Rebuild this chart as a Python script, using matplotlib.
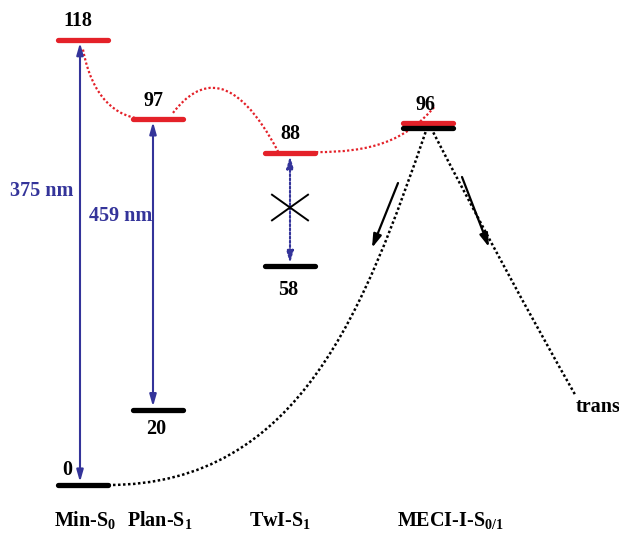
import matplotlib.pyplot as plt
from matplotlib.path import Path
from matplotlib.patches import PathPatch
from matplotlib.transforms import offset_copy

# energies in kcal/mol
states = ['Min-S$_0$', 'Plan-S$_1$', 'TwI-S$_1$', 'MECI-I-S$_{0/1}$']
s1_energy = [118, 97, 88, 96]
s0_energy = [0, 20, 58, 96]
s1_labels = ['118', '97', '88', '96']
s0_labels = ['0', '20', '58', '']
absorption = ['375 nm', '459 nm']
barrier = 105   # S1 barrier between Plan-S1 and TwI-S1
trans_energy = 24

RED = '#e42129'
BLUE = '#34349a'

plt.rcParams['font.family'] = 'Liberation Serif'
plt.rcParams['font.weight'] = 'bold'
plt.rcParams['mathtext.fontset'] = 'custom'
plt.rcParams['mathtext.rm'] = 'Liberation Serif:bold'
plt.rcParams['mathtext.it'] = 'Liberation Serif:bold'
plt.rcParams['mathtext.bf'] = 'Liberation Serif:bold'

fig = plt.figure(figsize=(6.19, 5.36), dpi=100)
ax = fig.add_axes([0, 0, 1, 1])
ax.set_xlim(0, 619)
ax.set_ylim(-13.53, 128.65)
ax.axis('off')

xc = [83, 158, 290, 428]
hw = 25
bar_lw = 3.8

# S1 levels (red) and S0 levels (black)
for i in range(4):
    ax.plot([xc[i] - hw, xc[i] + hw], [s1_energy[i]] * 2, color=RED, lw=bar_lw,
            solid_capstyle='round', zorder=3)
for i in range(3):
    ax.plot([xc[i] - hw, xc[i] + hw], [s0_energy[i]] * 2, color='black', lw=bar_lw,
            solid_capstyle='round', zorder=3)
# conical intersection: black bar just under the red one
low = offset_copy(ax.transData, fig=fig, x=0, y=-3.8, units='points')
ax.plot([xc[3] - hw, xc[3] + hw], [s0_energy[3]] * 2, color='black', lw=bar_lw,
        solid_capstyle='round', zorder=3, transform=low)

# energy labels
txt = dict(ha='center', va='center', fontsize=14.5, fontweight='bold')
above = [(-3.5, 13.5), (-3.5, 13.5), (0, 13.5), (-1.5, 13)]
for i in range(4):
    ax.annotate(s1_labels[i], (xc[i], s1_energy[i]), xytext=above[i],
                textcoords='offset points', **txt)
below = [(-11.5, 11), (-1, -14), (-1, -17)]
for i in range(3):
    ax.annotate(s0_labels[i], (xc[i], s0_energy[i]), xytext=below[i],
                textcoords='offset points', **txt)

# vertical excitations
head = '<|-|>,head_width=0.2,head_length=0.7'
ax.annotate('', xy=(xc[0] - 3, s1_energy[0] - 0.7), xytext=(xc[0] - 3, s0_energy[0] + 0.8),
            arrowprops=dict(arrowstyle=head, color=BLUE, lw=1.5, shrinkA=0, shrinkB=0))
ax.annotate('', xy=(xc[1] - 5, s1_energy[1] - 0.7), xytext=(xc[1] - 5, s0_energy[1] + 0.8),
            arrowprops=dict(arrowstyle=head, color=BLUE, lw=1.5, shrinkA=0, shrinkB=0))
ax.annotate('', xy=(xc[2], s1_energy[2] - 0.7), xytext=(xc[2], s0_energy[2] + 0.8),
            arrowprops=dict(arrowstyle=head, color=BLUE, lw=1.5, ls=(0, (1, 1)),
                            shrinkA=0, shrinkB=0))
ax.text(42, 77.9, absorption[0], color=BLUE, **txt)
ax.text(121, 71.3, absorption[1], color=BLUE, **txt)

# forbidden emission (cross over the dotted arrow)
e_mid = (s1_energy[2] + s0_energy[2]) / 2 + 0.6
ax.plot([xc[2] - 18, xc[2] + 18], [e_mid + 3.4, e_mid - 3.4], color='black', lw=1.4, zorder=4)
ax.plot([xc[2] - 18, xc[2] + 18], [e_mid - 3.4, e_mid + 3.4], color='black', lw=1.4, zorder=4)

# S1 relaxation path (red dotted)
verts = [(83, 115.5), (92, 103), (115, 97.5), (145, s1_energy[1]),
         (173, 98.7), (200, barrier + 3), (235, barrier + 5), (278, s1_energy[2] + 0.5),
         (316, s1_energy[2] + 0.3), (370, s1_energy[2] + 0.3), (405, 91), (435, 100.5)]
codes = [Path.MOVETO, Path.CURVE4, Path.CURVE4, Path.CURVE4,
         Path.MOVETO, Path.CURVE4, Path.CURVE4, Path.CURVE4,
         Path.MOVETO, Path.CURVE4, Path.CURVE4, Path.CURVE4]
ax.add_patch(PathPatch(Path(verts, codes), fill=False, ec=RED, lw=1.6,
                       ls=(0, (1, 1)), zorder=2))

# S0 surface through the MECI (black dotted)
verts = [(108, s0_energy[0]), (300, 0), (365, 47), (427, 94.7),
         (431, 94.7), (480, 69.5), (530, 45), (575, trans_energy)]
codes = [Path.MOVETO, Path.CURVE4, Path.CURVE4, Path.CURVE4,
         Path.MOVETO, Path.CURVE4, Path.CURVE4, Path.CURVE4]
ax.add_patch(PathPatch(Path(verts, codes), fill=False, ec='black', lw=1.8,
                       ls=(0, (1, 1)), zorder=2))

# decay direction arrows
ax.annotate('', xy=(372, 62.9), xytext=(398, 80.1),
            arrowprops=dict(arrowstyle='-|>,head_width=0.25,head_length=0.8',
                            color='black', lw=1.6, shrinkA=0, shrinkB=0))
ax.annotate('', xy=(489, 63.1), xytext=(462, 81.7),
            arrowprops=dict(arrowstyle='-|>,head_width=0.25,head_length=0.8',
                            color='black', lw=1.6, shrinkA=0, shrinkB=0))
ax.text(598, 20.7, 'trans', **txt)

# state names
name_x = [85, 160, 280, 450]
for i in range(4):
    ax.text(name_x[i], -9.3, states[i], **txt)

fig.savefig('out.png', dpi=100)
